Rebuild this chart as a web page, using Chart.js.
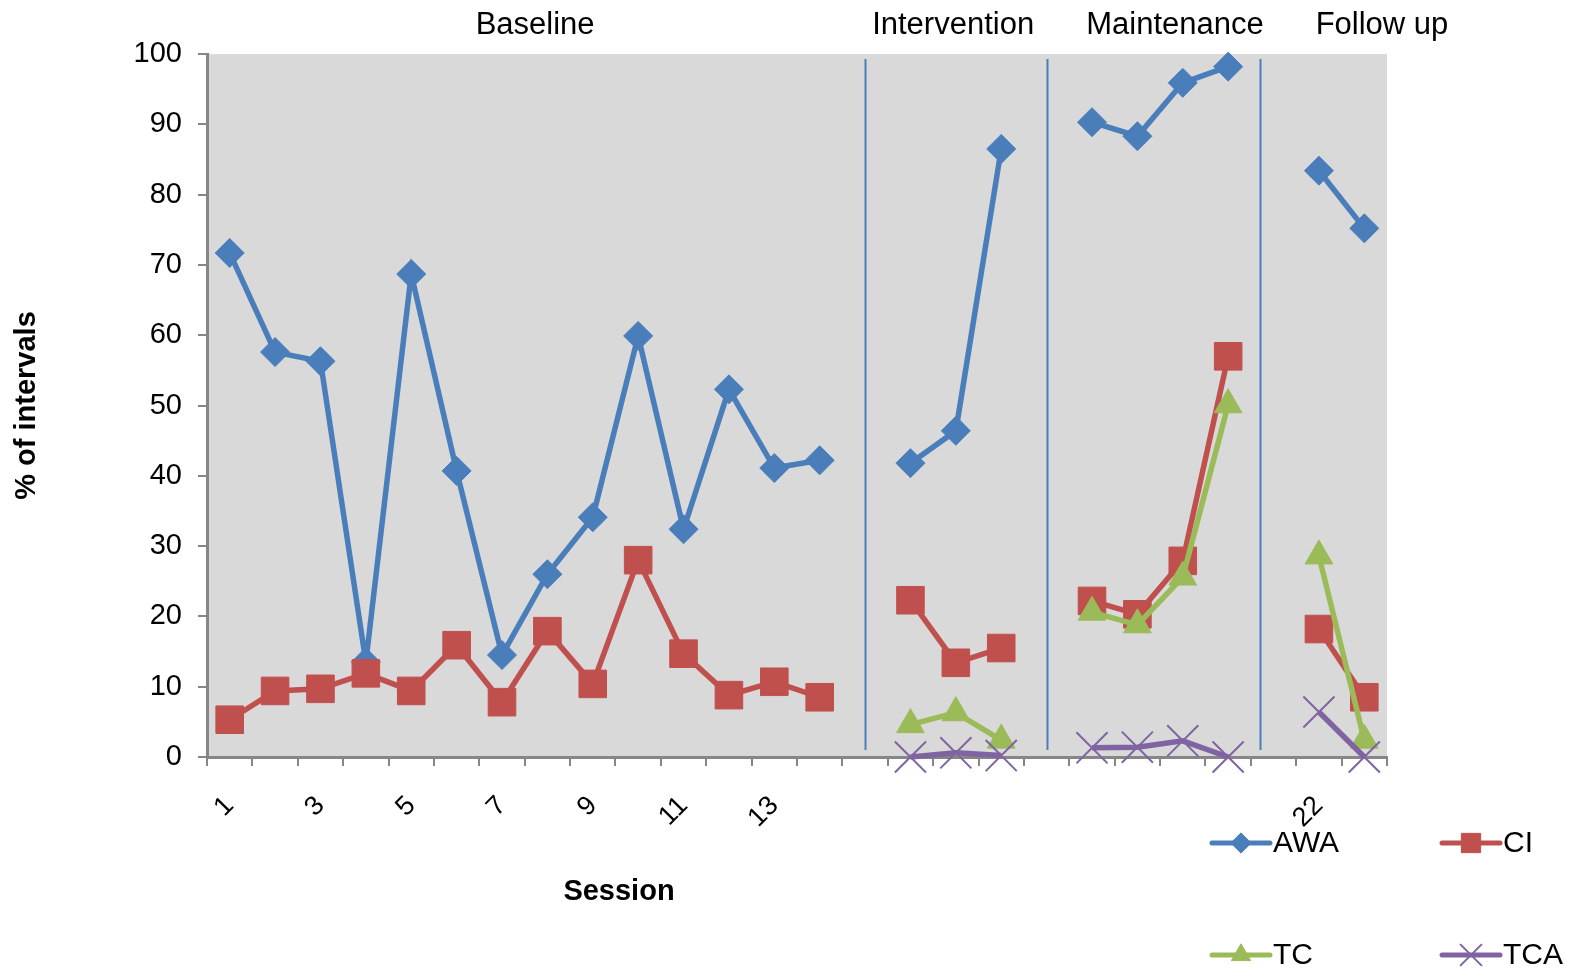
<!DOCTYPE html>
<html>
<head>
<meta charset="utf-8">
<script src="https://cdn.jsdelivr.net/npm/chart.js@4.4.0/dist/chart.umd.min.js"></script>
<style>
  html, body { margin: 0; padding: 0; background: #ffffff; overflow: hidden; }
  canvas { display: block; }
</style>
</head>
<body>
<canvas id="chart" width="1572" height="977"></canvas>
<script>
// Session labels (gaps between phases are empty categories)
const sessions = ['1','2','3','4','5','6','7','8','9','10','11','12','13','14',
  '', '', '', '', '', '', '', '', '', '', '22', '23'];

// % of intervals per behaviour
const awa = [71.7, 57.6, 56.3, 13.5, 68.7, 40.7, 14.5, 26.0, 34.1, 59.9, 32.4, 52.3, 41.1, 42.2,
  null, 41.8, 46.4, 86.5, null, 90.3, 88.3, 95.9, 98.2, null, 83.4, 75.2];
const ci = [5.3, 9.4, 9.7, 11.9, 9.4, 15.9, 7.8, 17.9, 10.4, 28.0, 14.7, 8.8, 10.7, 8.5,
  null, 22.3, 13.4, 15.5, null, 22.2, 20.3, 27.9, 57.0, null, 18.2, 8.5];
const tc = [null, null, null, null, null, null, null, null, null, null, null, null, null, null,
  null, 4.6, 6.3, 2.4, null, 20.6, 18.8, 25.6, 50.1, null, 28.6, 2.4];
const tca = [null, null, null, null, null, null, null, null, null, null, null, null, null, null,
  null, 0.0, 0.6, 0.2, null, 1.3, 1.4, 2.3, 0.0, null, 6.4, 0.0];

const yTicks = [0, 10, 20, 30, 40, 50, 60, 70, 80, 90, 100];

// Phase names and where they sit along the session axis
const phaseNames = ['Baseline', 'Intervention', 'Maintenance', 'Follow up'];
const phaseLabelAt = [6.73, 15.94, 20.83, 25.39];
const phaseLineAt = [14, 18, 22.7];

const FONT = "'Liberation Sans', Arial, sans-serif";
const AXIS_GREY = '#868686';

function series(label, data, color, style, radius, order) {
  return {
    label, data, order,
    borderColor: color,
    backgroundColor: color,
    borderWidth: 5.5,
    pointStyle: style,
    pointRadius: radius,
    pointHoverRadius: radius,
    pointBackgroundColor: color,
    pointBorderColor: color,
    pointBorderWidth: style === 'crossRot' ? 2 : 1,
    spanGaps: false,
    clip: false,
    tension: 0
  };
}

const datasets = [
  series('AWA', awa, '#4a7ebb', 'rectRot', 14.5, 3),
  series('CI', ci, '#c0504d', 'rect', 19.5, 2),
  series('TC', tc, '#9bbb59', 'triangle', 16, 1),
  series('TCA', tca, '#8064a2', 'crossRot', 22, 0)
];

const decor = {
  id: 'decor',
  beforeDraw(chart) {
    const { ctx, chartArea: a } = chart;
    ctx.save();
    ctx.fillStyle = '#d9d9d9';
    ctx.fillRect(a.left, a.top, a.right - a.left, a.bottom - a.top);
    ctx.restore();
  },
  beforeDatasetsDraw(chart) {
    const { ctx, chartArea: a, scales: { x } } = chart;
    ctx.save();
    ctx.strokeStyle = '#4a7ebb';
    ctx.lineWidth = 2;
    phaseLineAt.forEach(v => {
      const px = Math.round(x.getPixelForValue(v)) + 0.5;
      ctx.beginPath();
      ctx.moveTo(px, a.top + 5);
      ctx.lineTo(px, a.bottom - 7);
      ctx.stroke();
    });
    ctx.restore();
  },
  afterDraw(chart) {
    const { ctx, chartArea: a, scales: { x } } = chart;
    ctx.save();
    ctx.fillStyle = '#000';
    ctx.font = '31px ' + FONT;
    ctx.textAlign = 'center';
    ctx.textBaseline = 'middle';
    phaseNames.forEach((n, i) => {
      ctx.fillText(n, x.getPixelForValue(phaseLabelAt[i]), a.top - 29);
    });

    // x axis title
    ctx.font = 'bold 29px ' + FONT;
    ctx.fillText('Session', 619, 892);

    // legend, two columns by two rows
    const slots = [[1210, 843], [1440, 843], [1210, 955], [1440, 955]];
    chart.data.datasets.forEach((ds, i) => {
      const [lx, ly] = slots[i];
      ctx.strokeStyle = ds.borderColor;
      ctx.lineWidth = 5;
      ctx.lineCap = 'round';
      ctx.beginPath();
      ctx.moveTo(lx + 2, ly);
      ctx.lineTo(lx + 60, ly);
      ctx.stroke();
      ctx.fillStyle = ds.borderColor;
      ctx.lineCap = 'butt';
      ctx.lineWidth = ds.pointStyle === 'crossRot' ? 2 : 1;
      Chart.helpers.drawPoint(ctx, {
        pointStyle: ds.pointStyle,
        radius: ds.pointRadius * 0.7,
        rotation: 0,
        borderWidth: ctx.lineWidth
      }, lx + 31, ly);
      ctx.fillStyle = '#000';
      ctx.font = '30px ' + FONT;
      ctx.textAlign = 'left';
      ctx.fillText(ds.label, lx + 63, ly + 1);
    });
    ctx.restore();
  }
};

new Chart(document.getElementById('chart'), {
  type: 'line',
  data: { labels: sessions, datasets },
  plugins: [decor],
  options: {
    responsive: false,
    animation: false,
    devicePixelRatio: 1,
    layout: { padding: { left: 0, right: 185, top: 54, bottom: 0 } },
    plugins: { legend: { display: false }, tooltip: { enabled: false } },
    scales: {
      x: {
        type: 'category',
        offset: true,
        afterFit: s => { s.height = 220; },
        grid: {
          offset: true,
          drawOnChartArea: false,
          drawTicks: true,
          tickLength: 9,
          color: AXIS_GREY,
          lineWidth: 2
        },
        border: { display: true, color: AXIS_GREY, width: 3 },
        ticks: {
          autoSkip: false,
          minRotation: 45,
          maxRotation: 45,
          padding: 24,
          color: '#000',
          font: { family: FONT, size: 27 },
          callback: function (val, i) { return i % 2 === 0 ? this.getLabelForValue(val) : ''; }
        }
      },
      y: {
        min: 0,
        max: 100,
        afterFit: s => { s.width = 207; },
        afterBuildTicks: s => { s.ticks = yTicks.map(v => ({ value: v })); },
        grid: {
          drawOnChartArea: false,
          drawTicks: true,
          tickLength: 9,
          color: AXIS_GREY,
          lineWidth: 2
        },
        border: { display: true, color: AXIS_GREY, width: 3 },
        ticks: {
          padding: 16,
          color: '#000',
          font: { family: FONT, size: 29 }
        },
        title: {
          display: true,
          text: '% of intervals',
          color: '#000',
          font: { family: FONT, size: 29, weight: 'bold' },
          padding: { top: 10, bottom: 0 }
        }
      }
    }
  }
});
</script>
</body>
</html>
